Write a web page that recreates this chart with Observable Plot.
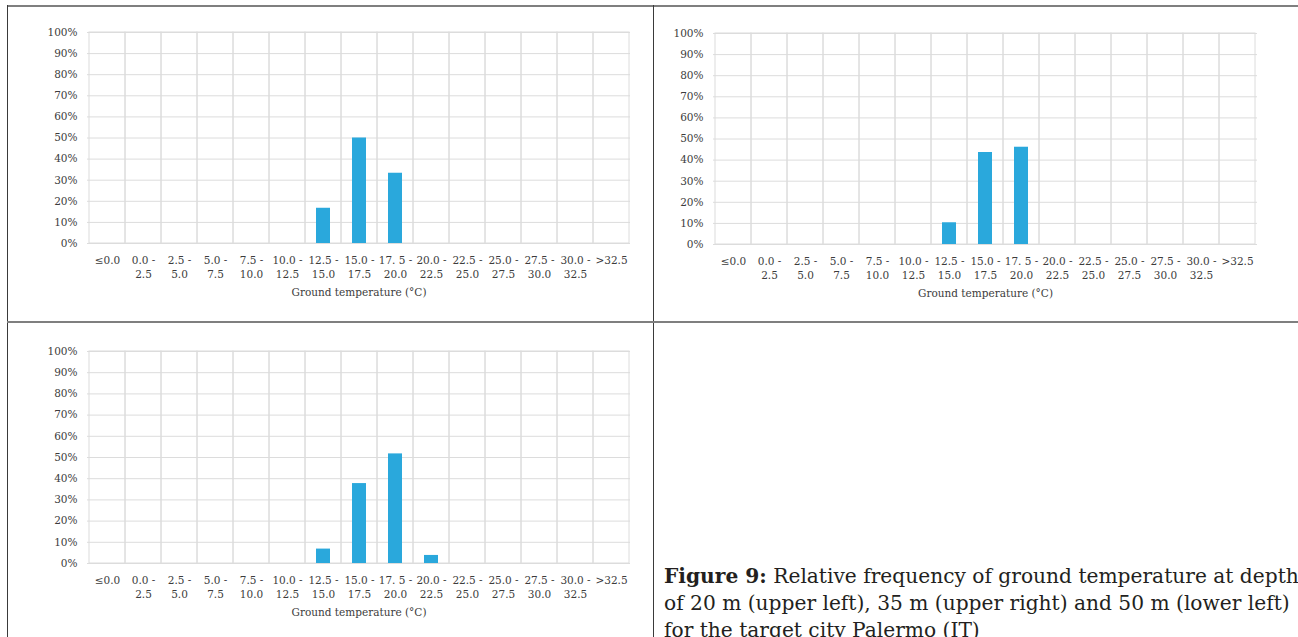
<!DOCTYPE html>
<html>
<head>
<meta charset="utf-8">
<script src="https://cdn.jsdelivr.net/npm/d3@7"></script>
<script src="https://cdn.jsdelivr.net/npm/@observablehq/plot@0.6"></script>
<style>
  html, body { margin: 0; padding: 0; background: #fff; overflow: hidden; }
  #page { position: relative; width: 1298px; height: 637px; overflow: hidden; background: #fff; }
  .line { position: absolute; }
  .panel { position: absolute; }
  #caption {
    position: absolute; left: 664px; top: 563px; width: 700px;
    font-family: "DejaVu Serif", serif; font-size: 20.2px; line-height: 27px;
    color: #231f20; white-space: nowrap;
  }
  #caption b { font-weight: bold; }
</style>
</head>
<body>
<div id="page">
  <div class="line" style="left:7px;top:5px;width:1291px;height:2px;background:#7f7f7f"></div>
  <div class="line" style="left:7px;top:5px;width:1px;height:632px;background:#3a3a3a"></div>
  <div class="line" style="left:653px;top:5px;width:1px;height:632px;background:#3a3a3a"></div>
  <div class="line" style="left:7px;top:321px;width:1291px;height:2px;background:#7f7f7f"></div>
  <div class="panel" id="p1" style="left:0px;top:0px"></div>
  <div class="panel" id="p2" style="left:654px;top:0px"></div>
  <div class="panel" id="p3" style="left:0px;top:323px"></div>
  <div id="caption"><b>Figure 9:</b> Relative frequency of ground temperature at depth<br>of 20 m (upper left), 35 m (upper right) and 50 m (lower left)<br>for the target city Palermo (IT)</div>
</div>
<script>
// Categories (temperature bins, °C)
const categories = ["≤0.0", "0.0-2.5", "2.5-5.0", "5.0-7.5", "7.5-10.0", "10.0-12.5", "12.5-15.0",
  "15.0-17.5", "17.5-20.0", "20.0-22.5", "22.5-25.0", "25.0-27.5", "27.5-30.0", "30.0-32.5", ">32.5"];
// Tick labels as printed
const tickLabels = ["≤0.0", "0.0 -\n2.5", "2.5 -\n5.0", "5.0 -\n7.5", "7.5 -\n10.0", "10.0 -\n12.5",
  "12.5 -\n15.0", "15.0 -\n17.5", "17. 5 -\n20.0", "20.0 -\n22.5", "22.5 -\n25.0", "25.0 -\n27.5",
  "27.5 -\n30.0", "30.0 -\n32.5", ">32.5"];
// Relative frequency (%) per bin
const depth20 = [0, 0, 0, 0, 0, 0, 16.7, 50.0, 33.3, 0, 0, 0, 0, 0, 0];
const depth35 = [0, 0, 0, 0, 0, 0, 10.3, 43.6, 46.1, 0, 0, 0, 0, 0, 0];
const depth50 = [0, 0, 0, 0, 0, 0, 6.8, 37.7, 51.7, 3.8, 0, 0, 0, 0, 0];
const yTicks = [0, 10, 20, 30, 40, 50, 60, 70, 80, 90, 100];
const axisTitle = "Ground temperature (°C)";

const barColor = "#2aa8dc";
const gridColor = "#dcdcdc";
const textColor = "#3c3c3c";

function panel(values, o) {
  const data = categories.map((c, i) => ({cat: c, v: values[i]})).filter(d => d.v > 0);
  return Plot.plot({
    width: o.width, height: o.height,
    marginLeft: o.ml, marginRight: o.mr, marginTop: o.mt, marginBottom: o.mb,
    style: {fontFamily: "DejaVu Serif", fontSize: "10.5px", color: textColor, background: "transparent", overflow: "visible"},
    x: {domain: categories, padding: 0, axis: null},
    y: {domain: [0, 100], axis: null},
    marks: [
      Plot.gridY(yTicks, {stroke: gridColor, strokeOpacity: 1}),
      Plot.barY(categories, {x: d => d, y1: 0, y2: 100, fill: "none", stroke: gridColor}),
      Plot.barY(data, {x: "cat", y: "v", fill: barColor, insetLeft: 11, insetRight: 11}),
      Plot.axisY(yTicks, {tickSize: 0, tickPadding: 10, tickFormat: d => d + "%", label: null, fill: textColor}),
      Plot.axisX(categories, {tickSize: 0, tickPadding: 11, tickFormat: (d, i) => tickLabels[categories.indexOf(d)], label: null, lineHeight: 1.3, fill: textColor}),
      Plot.text([axisTitle], {frameAnchor: "bottom", dy: 49, lineAnchor: "middle", fill: textColor})
    ]
  });
}

document.getElementById("p1").appendChild(panel(depth20, {width: 650, height: 320, ml: 87, mr: 20, mt: 32, mb: 77}));
document.getElementById("p2").appendChild(panel(depth35, {width: 644, height: 320, ml: 59, mr: 41, mt: 33, mb: 76}));
document.getElementById("p3").appendChild(panel(depth50, {width: 650, height: 314, ml: 87, mr: 20, mt: 28, mb: 74}));
</script>
</body>
</html>
